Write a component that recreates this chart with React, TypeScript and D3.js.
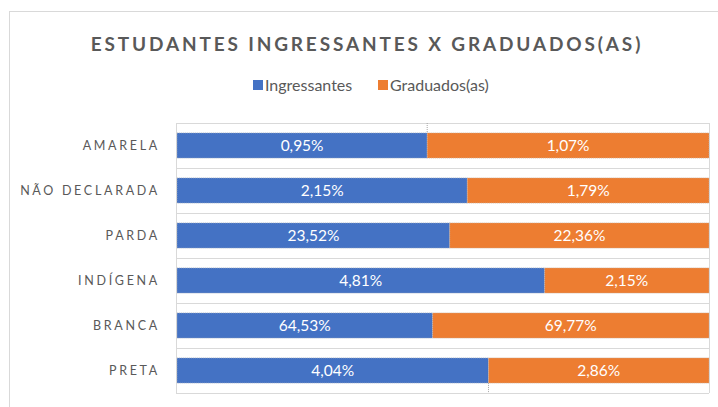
import React, { useEffect, useRef } from 'react';
import { scaleBand, scaleLinear, select } from 'd3';

const categories = ['AMARELA', 'NÃO DECLARADA', 'PARDA', 'INDÍGENA', 'BRANCA', 'PRETA'];
const ingressantes = [0.95, 2.15, 23.52, 4.81, 64.53, 4.04];
const graduados = [1.07, 1.79, 22.36, 2.15, 69.77, 2.86];
const seriesNames = ['Ingressantes', 'Graduados(as)'];
const colors = ['#4472C4', '#ED7D31'];

const fmt = (v: number) => v.toFixed(2).replace('.', ',') + '%';

const App = () => {
  const svgRef = useRef<SVGSVGElement>(null);
  const width = 718;
  const height = 407;
  const margin = { top: 123, right: 9, bottom: 14, left: 176 };

  useEffect(() => {
    const svg = select(svgRef.current).attr('width', width).attr('height', height);
    svg.selectAll('*').remove();

    const font = 'Lato, Calibri, "Open Sans", sans-serif';

    // card
    svg.append('rect')
      .attr('x', 9.5).attr('y', 11.5)
      .attr('width', 760).attr('height', 420)
      .attr('fill', '#fff').attr('stroke', '#d9d9d9');

    svg.append('text')
      .attr('x', 367).attr('y', 51)
      .attr('text-anchor', 'middle')
      .attr('font-family', font).attr('font-weight', 700)
      .attr('font-size', 19).attr('letter-spacing', 2.85)
      .attr('fill', '#595959')
      .text('ESTUDANTES INGRESSANTES X GRADUADOS(AS)');

    // legend
    const legendX = [253, 378];
    seriesNames.forEach((name, i) => {
      svg.append('rect')
        .attr('x', legendX[i]).attr('y', 80).attr('width', 10).attr('height', 10)
        .attr('fill', colors[i]);
      svg.append('text')
        .attr('x', legendX[i] + 12).attr('y', 91)
        .attr('font-family', font).attr('font-size', 16)
        .attr('fill', '#595959')
        .text(name);
    });

    const x = scaleLinear().domain([0, 1]).range([margin.left + 1, width - margin.right]);
    const y = scaleBand<string>()
      .domain(categories)
      .range([margin.top, height - margin.bottom])
      .paddingInner(0.44).paddingOuter(0.22);
    const step = y.step();
    const bandTop = (c: string) => (y(c) as number) - (step - y.bandwidth()) / 2;

    const g = svg.append('g');

    // horizontal gridlines between categories
    categories.forEach(c => {
      g.append('line')
        .attr('x1', margin.left).attr('x2', width - margin.right)
        .attr('y1', bandTop(c) + 0.5).attr('y2', bandTop(c) + 0.5)
        .attr('stroke', '#d9d9d9').attr('stroke-width', 1);
    });
    const bottomY = bandTop(categories[categories.length - 1]) + step;
    g.append('line')
      .attr('x1', margin.left).attr('x2', width - margin.right)
      .attr('y1', bottomY + 0.5).attr('y2', bottomY + 0.5)
      .attr('stroke', '#d9d9d9');
    g.append('line')
      .attr('x1', margin.left + 0.5).attr('x2', margin.left + 0.5)
      .attr('y1', margin.top).attr('y2', bottomY)
      .attr('stroke', '#d9d9d9');
    g.append('line')
      .attr('x1', width - margin.right + 0.5).attr('x2', width - margin.right + 0.5)
      .attr('y1', margin.top).attr('y2', bottomY)
      .attr('stroke', '#d9d9d9');

    // dotted series edges at top and bottom
    const shareFirst = ingressantes[0] / (ingressantes[0] + graduados[0]);
    const lastI = categories.length - 1;
    const shareLast = ingressantes[lastI] / (ingressantes[lastI] + graduados[lastI]);
    g.append('line')
      .attr('x1', x(shareFirst)).attr('x2', x(shareFirst))
      .attr('y1', margin.top).attr('y2', y(categories[0]) as number)
      .attr('stroke', '#a6a6a6').attr('stroke-dasharray', '1,1');
    g.append('line')
      .attr('x1', x(shareLast)).attr('x2', x(shareLast))
      .attr('y1', (y(categories[lastI]) as number) + y.bandwidth()).attr('y2', bottomY)
      .attr('stroke', '#a6a6a6').attr('stroke-dasharray', '1,1');

    categories.forEach((c, i) => {
      const total = ingressantes[i] + graduados[i];
      const share = ingressantes[i] / total;
      const segs = [
        { x0: 0, x1: share, v: ingressantes[i], color: colors[0] },
        { x0: share, x1: 1, v: graduados[i], color: colors[1] },
      ];
      const by = y(c) as number;
      segs.forEach(s => {
        g.append('rect')
          .attr('x', x(s.x0)).attr('y', by)
          .attr('width', x(s.x1) - x(s.x0)).attr('height', y.bandwidth())
          .attr('fill', s.color)
          .attr('stroke', '#bfbfbf').attr('stroke-width', 0.6).attr('stroke-dasharray', '1,1');
        g.append('text')
          .attr('x', (x(s.x0) + x(s.x1)) / 2).attr('y', by + y.bandwidth() / 2 + 5.5)
          .attr('text-anchor', 'middle')
          .attr('font-family', font).attr('font-size', 15.5)
          .attr('fill', '#fff')
          .text(fmt(s.v));
      });

      g.append('text')
        .attr('x', 160).attr('y', by + y.bandwidth() / 2 + 4.5)
        .attr('text-anchor', 'end')
        .attr('font-family', font).attr('font-size', 12.5)
        .attr('letter-spacing', 2.7)
        .attr('fill', '#595959')
        .text(c);
    });
  }, []);

  return (
    <svg ref={svgRef} style={{ position: 'absolute', left: 0, top: 0 }}></svg>
  );
};

export default App;
